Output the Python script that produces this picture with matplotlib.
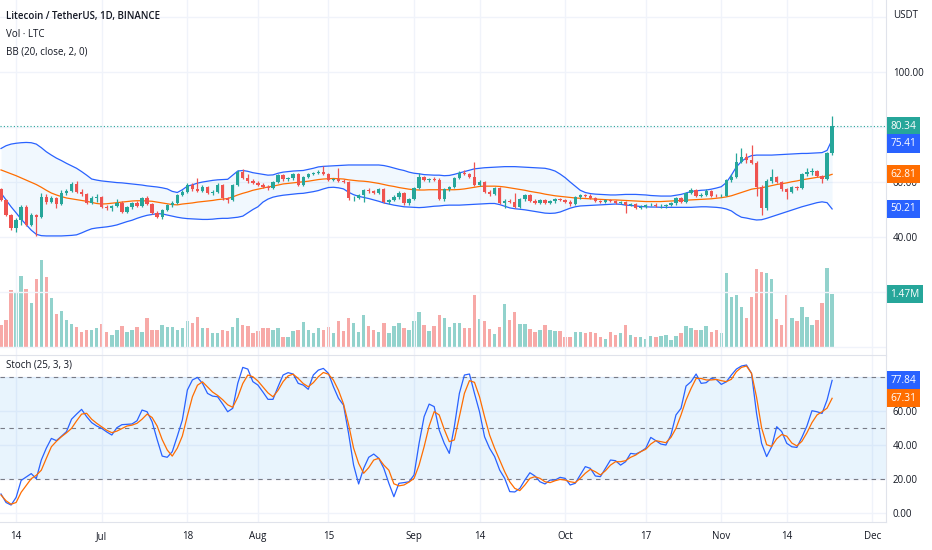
import matplotlib
matplotlib.use("Agg")
import matplotlib.pyplot as plt
import matplotlib.dates as mdates
import numpy as np
import pandas as pd

plt.rcParams['font.family'] = ['Open Sans', 'DejaVu Sans']

# daily candles LTC/USDT, 2022-06-11 .. 2022-11-23
dates = pd.date_range('2022-06-11', '2022-11-23', freq='D')

open_ = [57.5, 53.5, 48.0, 43.2, 46.2, 50.8, 44.4, 48.0, 47.2, 54.7,
         52.8, 54.1, 52.0, 56.1, 56.6, 59.3, 56.5, 55.6, 52.5, 54.1,
         54.6, 51.0, 50.4, 51.3, 52.5, 49.2, 50.8, 52.2, 51.3, 54.1,
         52.0, 48.8, 47.2, 49.8, 51.6, 52.5, 55.3, 56.5, 58.9, 57.3,
         56.7, 58.3, 55.9, 56.5, 58.9, 54.1, 53.5, 58.9, 63.8, 61.5,
         60.3, 59.8, 59.0, 58.3, 57.7, 60.1, 62.5, 61.0, 61.3, 62.9,
         58.9, 61.9, 62.9, 63.2, 63.8, 62.9, 60.7, 61.0, 60.5, 60.1,
         54.1, 54.3, 55.3, 57.1, 56.6, 56.1, 57.3, 52.9, 53.5, 54.7,
         56.1, 52.2, 53.7, 57.7, 61.7, 60.7, 61.0, 60.6, 54.0, 57.3,
         58.1, 61.3, 63.4, 63.0, 61.9, 58.9, 60.1, 56.5, 55.6, 57.7,
         52.5, 53.2, 52.8, 51.0, 53.7, 55.3, 53.2, 52.5, 53.5, 52.5,
         53.0, 53.7, 53.5, 52.8, 51.9, 54.4, 55.3, 55.0, 54.1, 53.0,
         52.7, 53.5, 53.2, 52.5, 52.8, 51.6, 52.0, 50.6, 51.0, 51.6,
         51.8, 51.3, 51.4, 51.6, 52.2, 54.1, 52.6, 55.9, 57.1, 54.9,
         55.3, 56.8, 55.0, 54.9, 55.1, 60.7, 61.9, 67.4, 69.2, 68.0,
         67.0, 58.1, 50.4, 60.5, 61.7, 60.1, 57.4, 56.5, 58.1, 57.7,
         62.8, 63.5, 64.0, 62.2, 61.0, 70.4]
close = [53.5, 48.0, 43.2, 46.2, 50.8, 44.4, 48.0, 47.2, 54.7, 52.8,
         54.1, 52.0, 56.1, 56.6, 59.3, 56.5, 55.6, 52.5, 54.1, 54.6,
         51.0, 50.4, 51.3, 52.5, 49.2, 50.8, 52.2, 51.3, 54.1, 52.0,
         48.8, 47.2, 49.8, 51.6, 52.5, 55.3, 56.5, 58.9, 57.3, 56.7,
         58.3, 55.9, 56.5, 58.9, 54.1, 53.5, 58.9, 63.8, 61.5, 60.3,
         59.8, 59.0, 58.3, 57.7, 60.1, 62.5, 61.0, 61.3, 62.9, 58.9,
         61.9, 62.9, 63.2, 63.8, 62.9, 60.7, 61.0, 60.5, 60.1, 54.1,
         54.3, 55.3, 57.1, 56.6, 56.1, 57.3, 52.9, 53.5, 54.7, 56.1,
         52.2, 53.7, 57.7, 61.7, 60.7, 61.0, 60.6, 54.0, 57.3, 58.1,
         61.3, 63.4, 63.0, 61.9, 58.9, 60.1, 56.5, 55.6, 57.7, 52.5,
         53.2, 52.8, 51.0, 53.7, 55.3, 53.2, 52.5, 53.5, 52.5, 53.0,
         53.7, 53.5, 52.8, 51.9, 54.4, 55.3, 55.0, 54.1, 53.0, 52.7,
         53.5, 53.2, 52.5, 52.8, 51.6, 52.0, 50.6, 51.0, 51.6, 51.8,
         51.3, 51.4, 51.6, 52.2, 54.1, 52.6, 55.9, 57.1, 54.9, 55.3,
         56.8, 55.0, 54.9, 55.1, 60.7, 61.9, 67.4, 69.2, 68.0, 67.0,
         58.1, 50.4, 60.5, 61.7, 60.1, 57.4, 56.5, 58.1, 57.7, 62.8,
         63.5, 64.0, 62.2, 61.0, 70.4, 80.34]
high = [58.0, 54.0, 48.5, 47.0, 51.5, 51.5, 48.8, 48.5, 56.0, 55.5,
        55.0, 54.6, 57.0, 57.5, 60.0, 60.5, 57.3, 56.0, 54.8, 55.5,
        55.0, 51.8, 51.8, 53.8, 53.0, 51.3, 52.8, 53.0, 54.6, 54.8,
        52.4, 49.3, 50.3, 52.0, 53.0, 55.8, 57.0, 59.5, 59.8, 61.3,
        58.8, 58.6, 57.0, 59.5, 59.3, 54.6, 59.3, 64.4, 64.6, 63.0,
        61.0, 60.3, 59.5, 58.8, 60.5, 63.0, 62.9, 61.8, 63.3, 63.2,
        62.3, 63.3, 63.6, 64.5, 65.8, 63.3, 61.6, 65.0, 61.0, 60.5,
        54.8, 55.8, 57.6, 57.8, 57.2, 57.8, 57.7, 54.0, 55.2, 56.6,
        56.5, 54.2, 58.2, 63.2, 62.2, 61.6, 61.8, 61.5, 57.8, 58.6,
        61.8, 64.0, 64.2, 63.4, 67.4, 60.6, 60.5, 57.0, 58.2, 58.1,
        53.7, 53.7, 55.9, 54.2, 55.8, 55.7, 53.7, 54.0, 54.0, 53.5,
        54.2, 54.2, 54.0, 53.3, 54.9, 55.8, 55.8, 55.5, 54.5, 53.6,
        54.0, 54.0, 53.6, 53.2, 53.1, 52.5, 52.3, 51.5, 52.0, 52.3,
        52.2, 51.9, 52.0, 52.6, 54.6, 54.5, 56.4, 57.7, 57.4, 55.9,
        57.3, 57.2, 55.5, 55.6, 61.2, 63.0, 70.4, 72.2, 70.7, 73.5,
        67.6, 58.8, 61.0, 64.6, 62.3, 60.5, 58.0, 58.6, 58.6, 63.3,
        65.0, 65.2, 64.5, 62.6, 71.0, 84.0]
low = [53.0, 47.5, 42.5, 42.0, 44.5, 44.0, 44.0, 40.4, 46.8, 52.0,
       52.3, 50.4, 51.6, 55.2, 56.2, 56.0, 55.0, 52.0, 52.0, 52.6,
       50.5, 49.8, 49.5, 50.8, 48.6, 48.8, 50.3, 50.8, 51.0, 51.7,
       48.3, 46.8, 46.6, 49.3, 51.0, 52.0, 54.8, 56.0, 56.8, 56.2,
       56.3, 55.5, 55.3, 56.0, 53.6, 52.2, 53.0, 58.5, 61.0, 59.8,
       59.3, 58.6, 57.8, 57.2, 57.3, 59.6, 60.5, 60.4, 60.8, 58.4,
       58.5, 61.4, 62.4, 62.8, 62.5, 60.3, 60.2, 60.0, 59.6, 53.5,
       53.0, 53.8, 52.9, 56.0, 55.6, 55.8, 52.5, 52.0, 53.0, 53.8,
       51.8, 51.8, 53.3, 57.3, 60.2, 60.1, 60.2, 53.6, 53.2, 56.8,
       57.7, 61.0, 62.4, 61.4, 58.4, 58.4, 56.0, 55.1, 55.2, 52.0,
       50.4, 52.3, 50.6, 50.6, 53.2, 52.8, 52.0, 52.0, 52.0, 52.0,
       52.5, 53.0, 52.3, 51.4, 51.5, 54.0, 54.5, 53.7, 52.6, 52.2,
       52.3, 52.8, 52.0, 52.0, 48.8, 51.2, 50.2, 50.2, 50.6, 51.2,
       50.9, 50.5, 50.6, 51.3, 51.8, 52.2, 52.3, 55.5, 54.5, 54.5,
       54.9, 54.6, 54.5, 54.6, 54.8, 60.0, 61.5, 66.8, 67.0, 66.5,
       54.9, 48.0, 49.8, 59.8, 59.6, 56.8, 53.7, 56.0, 57.2, 57.3,
       62.3, 62.6, 61.8, 59.8, 60.6, 70.0]
volume_m = [0.60, 0.74, 1.58, 1.53, 1.97, 1.61, 1.21, 1.89, 2.42, 1.95,
            1.37, 0.91, 1.00, 0.74, 0.63, 0.54, 0.40, 0.47, 0.47, 0.51,
            0.63, 0.40, 0.33, 0.47, 0.57, 0.40, 0.48, 0.54, 0.40, 0.80,
            0.48, 0.48, 0.60, 0.54, 0.54, 0.47, 0.51, 0.72, 0.66, 0.83,
            0.51, 0.51, 0.37, 0.37, 0.48, 0.44, 0.54, 0.80, 0.60, 0.57,
            0.37, 0.44, 0.51, 0.51, 0.47, 0.51, 0.26, 0.26, 0.43, 0.48,
            0.69, 0.47, 0.37, 0.51, 0.47, 0.54, 0.37, 0.72, 0.44, 0.80,
            0.66, 0.40, 0.88, 0.57, 0.47, 0.40, 0.66, 0.37, 0.57, 0.66,
            0.51, 0.47, 0.73, 0.97, 0.60, 0.43, 0.58, 0.89, 0.80, 0.55,
            0.66, 0.66, 0.52, 0.52, 1.44, 0.77, 0.72, 0.49, 0.35, 0.55,
            1.18, 0.74, 0.96, 0.63, 0.63, 0.49, 0.41, 0.48, 0.60, 0.48,
            0.44, 0.44, 0.26, 0.26, 0.40, 0.40, 0.37, 0.40, 0.37, 0.26,
            0.23, 0.40, 0.34, 0.38, 0.60, 0.34, 0.26, 0.26, 0.23, 0.29,
            0.26, 0.29, 0.32, 0.19, 0.29, 0.37, 0.58, 0.52, 0.47, 0.47,
            0.58, 0.41, 0.48, 0.37, 2.07, 1.38, 1.44, 1.12, 0.79, 1.38,
            2.16, 2.08, 2.05, 1.89, 0.77, 0.60, 1.44, 0.80, 0.72, 1.12,
            0.83, 0.60, 0.74, 1.21, 2.19, 1.47]

# Bollinger Bands (20, close, 2) as drawn
bb_upper = [72.2, 73.2, 73.8, 74.1, 74.3, 74.4, 74.3, 73.8, 72.5, 71.0,
            69.8, 68.7, 67.8, 66.8, 65.9, 65.0, 63.8, 62.5, 61.1, 60.7,
            60.4, 60.2, 60.0, 59.8, 59.7, 59.5, 59.3, 59.1, 58.9, 58.6,
            58.4, 58.2, 57.9, 57.5, 56.6, 56.2, 57.2, 58.5, 59.0, 59.6,
            60.0, 60.3, 60.6, 60.8, 60.9, 61.0, 62.5, 64.0, 64.2, 63.9,
            63.4, 63.1, 62.8, 62.5, 62.6, 63.2, 63.6, 63.8, 64.0, 64.1,
            64.2, 64.6, 65.0, 65.5, 65.7, 65.8, 65.9, 66.0, 66.1, 66.2,
            66.2, 66.2, 66.2, 66.2, 66.2, 66.2, 66.0, 65.6, 65.1, 64.6,
            64.2, 63.6, 63.2, 63.0, 62.7, 62.6, 62.5, 62.5, 62.3, 62.4,
            62.8, 63.3, 63.8, 64.3, 64.8, 65.0, 65.2, 65.3, 65.4, 65.5,
            65.6, 65.6, 65.6, 65.5, 65.4, 65.3, 65.2, 65.1, 65.0, 64.6,
            64.0, 62.9, 61.6, 60.0, 58.5, 57.0, 56.2, 55.8, 55.6, 55.5,
            55.4, 55.3, 55.3, 55.4, 55.5, 55.5, 55.5, 55.4, 55.3, 55.1,
            55.0, 54.9, 54.9, 54.9, 55.2, 55.5, 56.0, 56.6, 56.8, 57.0,
            57.1, 57.4, 57.8, 58.3, 59.8, 62.5, 65.5, 67.5, 68.8, 69.6,
            69.8, 69.8, 69.8, 69.8, 69.9, 70.0, 70.1, 70.2, 70.3, 70.4,
            70.4, 70.5, 70.6, 70.7, 71.5, 75.41]
bb_basis = [64.4, 63.7, 63.0, 62.3, 61.5, 60.7, 59.9, 59.1, 58.1, 57.0,
            56.0, 55.3, 54.7, 54.2, 53.9, 53.6, 53.3, 53.0, 52.6, 52.2,
            52.0, 52.1, 52.3, 52.5, 52.7, 52.9, 53.1, 53.2, 53.2, 53.1,
            53.0, 52.7, 52.4, 52.1, 51.8, 51.7, 52.0, 52.2, 52.4, 52.7,
            52.9, 53.1, 53.3, 53.6, 53.8, 54.0, 54.6, 55.3, 55.9, 56.4,
            57.0, 57.4, 57.8, 58.2, 58.5, 58.9, 59.3, 59.5, 59.7, 59.9,
            60.1, 60.3, 60.6, 60.9, 61.1, 61.2, 61.3, 61.2, 61.1, 60.8,
            60.6, 60.4, 60.3, 60.1, 59.8, 59.5, 59.1, 58.7, 58.4, 58.0,
            57.7, 57.4, 57.2, 57.1, 57.1, 57.2, 57.2, 57.2, 57.2, 57.2,
            57.2, 57.3, 57.5, 57.8, 58.1, 58.4, 58.5, 58.5, 58.5, 58.4,
            58.2, 57.9, 57.6, 57.3, 57.0, 56.6, 56.3, 56.0, 55.6, 55.3,
            55.0, 54.8, 54.6, 54.4, 54.2, 54.1, 54.0, 53.9, 53.8, 53.7,
            53.6, 53.5, 53.5, 53.4, 53.3, 53.2, 53.1, 53.0, 52.9, 52.9,
            52.9, 52.9, 53.0, 53.1, 53.2, 53.3, 53.4, 53.5, 53.6, 53.7,
            53.8, 53.9, 54.1, 54.3, 54.6, 55.0, 55.6, 56.2, 56.8, 57.4,
            57.7, 57.9, 58.3, 58.7, 59.1, 59.4, 59.7, 60.1, 60.4, 60.8,
            61.1, 61.4, 61.7, 61.9, 62.2, 62.81]
bb_lower = [56.0, 53.5, 51.0, 48.8, 46.5, 44.5, 42.5, 41.0, 40.5, 40.4,
            40.4, 40.4, 40.4, 40.5, 40.6, 40.8, 41.5, 42.3, 43.0, 43.3,
            43.5, 43.7, 44.0, 44.4, 45.0, 45.6, 46.1, 46.8, 47.4, 47.9,
            48.2, 48.5, 48.4, 48.0, 47.6, 47.2, 46.9, 46.7, 46.6, 46.5,
            46.4, 46.4, 46.5, 46.7, 46.8, 46.8, 47.0, 47.2, 47.6, 48.8,
            50.0, 51.0, 52.7, 53.8, 54.5, 54.9, 55.2, 55.4, 55.6, 55.8,
            55.9, 56.2, 56.5, 56.9, 57.5, 58.0, 58.1, 57.9, 57.5, 56.3,
            55.4, 54.8, 54.4, 54.0, 53.5, 53.0, 52.4, 52.0, 51.6, 51.3,
            51.0, 50.9, 50.8, 50.7, 50.8, 51.0, 51.2, 51.3, 51.5, 51.6,
            51.6, 51.6, 51.7, 51.8, 51.9, 52.0, 52.1, 52.2, 52.2, 51.8,
            51.2, 50.6, 50.3, 50.1, 49.9, 49.6, 49.3, 49.0, 48.7, 48.6,
            48.7, 49.1, 49.8, 50.5, 51.0, 51.3, 51.4, 51.5, 51.6, 51.7,
            51.8, 51.9, 52.0, 51.9, 51.6, 51.5, 51.3, 51.1, 51.0, 50.9,
            50.9, 50.8, 50.8, 50.8, 50.8, 50.8, 50.8, 50.8, 50.9, 51.0,
            51.0, 50.9, 50.8, 50.6, 50.2, 49.5, 48.2, 47.2, 46.9, 46.5,
            46.2, 46.3, 46.8, 47.4, 48.0, 48.6, 49.2, 49.8, 50.4, 51.0,
            51.5, 52.0, 52.5, 52.8, 52.5, 50.21]

# Stoch (25, 3, 3)
stoch_k = [11, 6, 4.5, 9, 19, 21, 23, 20, 31, 38,
           43.7, 42.4, 45, 47.7, 55, 58, 60.8, 56.5, 53, 51,
           49.6, 47.5, 45.7, 50, 51.8, 52, 52.2, 54.1, 60.4, 59.4,
           53.5, 43, 33.3, 32.6, 35.9, 45, 54.5, 72.2, 78.1, 79.6,
           76.1, 70.2, 68.6, 68.2, 64, 59.4, 61.4, 76.1, 85.5, 84.5,
           77.1, 75.1, 71, 66.7, 66.7, 74.1, 81, 82.4, 81.6, 76.1,
           75.1, 72.6, 81, 83.9, 84.9, 82, 74.1, 67.3, 63.3, 46.7,
           28, 16.9, 26.1, 32.6, 34.5, 32, 26.1, 17.3, 9.4, 17.3,
           17.7, 18.2, 22.2, 40.8, 56.5, 63.9, 62.4, 48.6, 40.8, 34.9,
           50.6, 70.2, 81, 81.6, 70.2, 59.4, 44.7, 37.9, 33, 25.1,
           20.2, 12.4, 12.2, 14.3, 19.2, 23.5, 21.6, 18.2, 16.9, 19.2,
           19.2, 20.8, 20.2, 16.3, 17.3, 22.2, 27.1, 26.1, 21.6, 21.2,
           26.1, 31, 30.6, 28, 30, 34.9, 34.5, 35.9, 37.9, 44.3,
           42.4, 40.4, 39.8, 45.7, 57.5, 61.4, 74.5, 77.1, 81.6, 76.1,
           76.5, 79, 78.4, 75.5, 77, 81, 84.5, 86.3, 86.9, 82,
           58.4, 40.8, 33, 38.8, 50.6, 47.7, 40.8, 38.8, 38.4, 44.3,
           51, 60, 59.4, 58.4, 66.3, 77.84]
stoch_d = [10.4, 7, 5, 6, 12, 16, 20, 22, 25, 32,
           38.8, 42, 44.7, 47, 49.6, 54, 58, 58.5, 55, 52.6,
           50.5, 48.5, 47.1, 48, 49.5, 51, 51.5, 52.6, 55, 58,
           56, 51, 43, 36.9, 33.3, 38, 45.1, 57, 68.2, 75,
           77, 74, 71, 69, 66.5, 63.5, 62, 68, 76, 81,
           80, 77.5, 74, 70.5, 68.2, 72, 77.1, 80.5, 81.5, 79,
           76, 74.1, 76.5, 80, 82.5, 81.5, 78, 72, 64, 52,
           38, 29, 23.2, 26.5, 31, 32, 28, 25, 17, 15.8,
           16.3, 18, 20.2, 28, 38.8, 51, 59.5, 57.5, 49, 41.8,
           42.8, 56.5, 70.2, 77.7, 76.7, 68.2, 56.5, 45.7, 37.9, 31,
           24.1, 18.2, 14.3, 13, 16.3, 20.2, 21.2, 20.2, 18.2, 17.7,
           18.8, 19.6, 19.2, 18.2, 17.7, 20.2, 23.2, 25.5, 24.1, 22.2,
           24.7, 28, 30, 30, 30.6, 32.6, 33.9, 35.9, 37.3, 40.4,
           42.4, 41.8, 41.2, 44.3, 49.6, 57.5, 66.3, 73.1, 79, 79,
           78.1, 78.1, 78.4, 77.7, 77.1, 78.5, 83, 85.5, 86.3, 82,
           68, 50, 40, 39, 43.5, 46, 45, 41, 39.3, 42,
           47, 53, 57.5, 59.4, 61.5, 67.31]

tick_dates = ['2022-06-14', '2022-07-01', '2022-07-18', '2022-08-01',
              '2022-08-15', '2022-09-01', '2022-09-14', '2022-10-01',
              '2022-10-17', '2022-11-01', '2022-11-14', '2022-12-01']
tick_labels = ['14', 'Jul', '18', 'Aug', '15', 'Sep', '14', 'Oct',
               '17', 'Nov', '14', 'Dec']

UP, DOWN = '#26a69a', '#ef5350'
BLUE, ORANGE = '#2962ff', '#ff6d00'
GRID, BORDER, TXT = '#f0f3fa', '#e0e3eb', '#131722'

x = mdates.date2num(dates)
o, c = np.array(open_), np.array(close)
h, l = np.array(high), np.array(low)
colors = np.where(c >= o, UP, DOWN)
vcolors = np.where(c >= o, '#92d2cc', '#f7a9a7')

W, H = 932, 550
def px_rect(x0, y0, x1, y1):
    return [x0 / W, 1 - y1 / H, (x1 - x0) / W, (y1 - y0) / H]

fig = plt.figure(figsize=(W / 100, H / 100), dpi=100)
ax = fig.add_axes(px_rect(0, 0, 886, 355))
axv = ax.twinx()
axs = fig.add_axes(px_rect(0, 356, 886, 521.7), sharex=ax)
ax.set_zorder(axv.get_zorder() + 1)
ax.patch.set_visible(False)

jul1 = mdates.date2num(pd.Timestamp('2022-07-01'))
ax.set_xlim(jul1 - 20.2, jul1 + 155.7)
ax.set_ylim(-2.9, 126.2)
axv.set_ylim(-0.23, 9.67)
axs.set_ylim(-5.3, 92.2)

# volume
axv.bar(x, volume_m, width=0.68, color=vcolors, zorder=1)
axv.set_yticks([])

# bollinger
ax.fill_between(x, bb_lower, bb_upper, color='#2196f3', alpha=0.06, lw=0, zorder=1)
ax.plot(x, bb_upper, color=BLUE, lw=0.9, zorder=2)
ax.plot(x, bb_lower, color=BLUE, lw=0.9, zorder=2)
ax.plot(x, bb_basis, color=ORANGE, lw=0.9, zorder=2)

# candles
ax.vlines(x, l, h, colors=colors, lw=0.9, zorder=3)
body = np.maximum(np.abs(c - o), 0.12)
ax.bar(x, body, bottom=np.minimum(o, c), width=0.66, color=colors, zorder=4)
ax.axhline(close[-1], color=UP, ls=(0, (1, 2)), lw=0.8, zorder=2)

# stochastic
axs.axhspan(20, 80, color='#2196f3', alpha=0.1, lw=0)
for lvl in (80, 50, 20):
    axs.axhline(lvl, color='#787b86', ls=(0, (4, 4)), lw=0.8)
axs.plot(x, stoch_k, color=BLUE, lw=0.9)
axs.plot(x, stoch_d, color=ORANGE, lw=0.9)

# axes cosmetics
ticks = mdates.date2num(pd.to_datetime(tick_dates))
axs.set_xticks(ticks)
axs.set_xticklabels(tick_labels)
for a in (ax, axs):
    for s in ('top', 'left', 'bottom'):
        a.spines[s].set_visible(False)
    a.spines['right'].set_color(BORDER)
    a.yaxis.tick_right()
    a.grid(True, color=GRID, lw=1, zorder=0)
    a.set_axisbelow(True)
    a.tick_params(axis='y', length=0, labelsize=7, colors=TXT, pad=5)
for s in ('right', 'left', 'top', 'bottom'):
    axv.spines[s].set_visible(False)
ax.spines['bottom'].set_visible(True)
ax.spines['bottom'].set_color(BORDER)
axs.spines['bottom'].set_visible(True)
axs.spines['bottom'].set_color(BORDER)
ax.tick_params(axis='x', length=0, labelbottom=False)
axs.tick_params(axis='x', length=0, labelsize=7, colors=TXT, pad=7)

ax.set_yticks([0, 20, 40, 60, 80, 100, 120])
ax.set_yticklabels(['', '', '40.00', '60.00', '', '100.00', ''])
axs.set_yticks([0, 20, 40, 60, 80])
axs.set_yticklabels(['0.00', '20.00', '40.00', '60.00', ''])

def tag(a, y, text, color, dy=0):
    a.annotate(text, xy=(1, y), xycoords=a.get_yaxis_transform(),
               xytext=(3.0, dy), textcoords='offset points', ha='left', va='center',
               color='white', fontsize=7.3, annotation_clip=False, zorder=10,
               bbox=dict(boxstyle='square,pad=0.36', fc=color, ec='none'))

tag(ax, close[-1], f'{close[-1]:.2f}', UP)
tag(ax, bb_upper[-1], f'{bb_upper[-1]:.2f}', BLUE, dy=-2.8)
tag(ax, bb_basis[-1], f'{bb_basis[-1]:.2f}', ORANGE)
tag(ax, bb_lower[-1], f'{bb_lower[-1]:.2f}', BLUE)
tag(axv, volume_m[-1], f'{volume_m[-1]:.2f}M', UP)
tag(axs, stoch_k[-1], f'{stoch_k[-1]:.2f}', BLUE)
tag(axs, stoch_d[-1], f'{stoch_d[-1]:.2f}', ORANGE)

fig.text(893 / W, 1 - 15 / H, 'USDT', fontsize=7, color=TXT, va='center')
fig.text(6 / W, 1 - 17 / H, 'Litecoin / TetherUS, 1D, BINANCE', fontsize=7,
         color=TXT, va='center', weight='semibold')
fig.text(6 / W, 1 - 34.5 / H, 'Vol · LTC', fontsize=7, color=TXT, va='center')
fig.text(6 / W, 1 - 52 / H, 'BB (20, close, 2, 0)', fontsize=7, color=TXT, va='center')
fig.text(6 / W, 1 - 365 / H, 'Stoch (25, 3, 3)', fontsize=7, color=TXT, va='center')

fig.savefig('out.png', dpi=100, facecolor='white')
